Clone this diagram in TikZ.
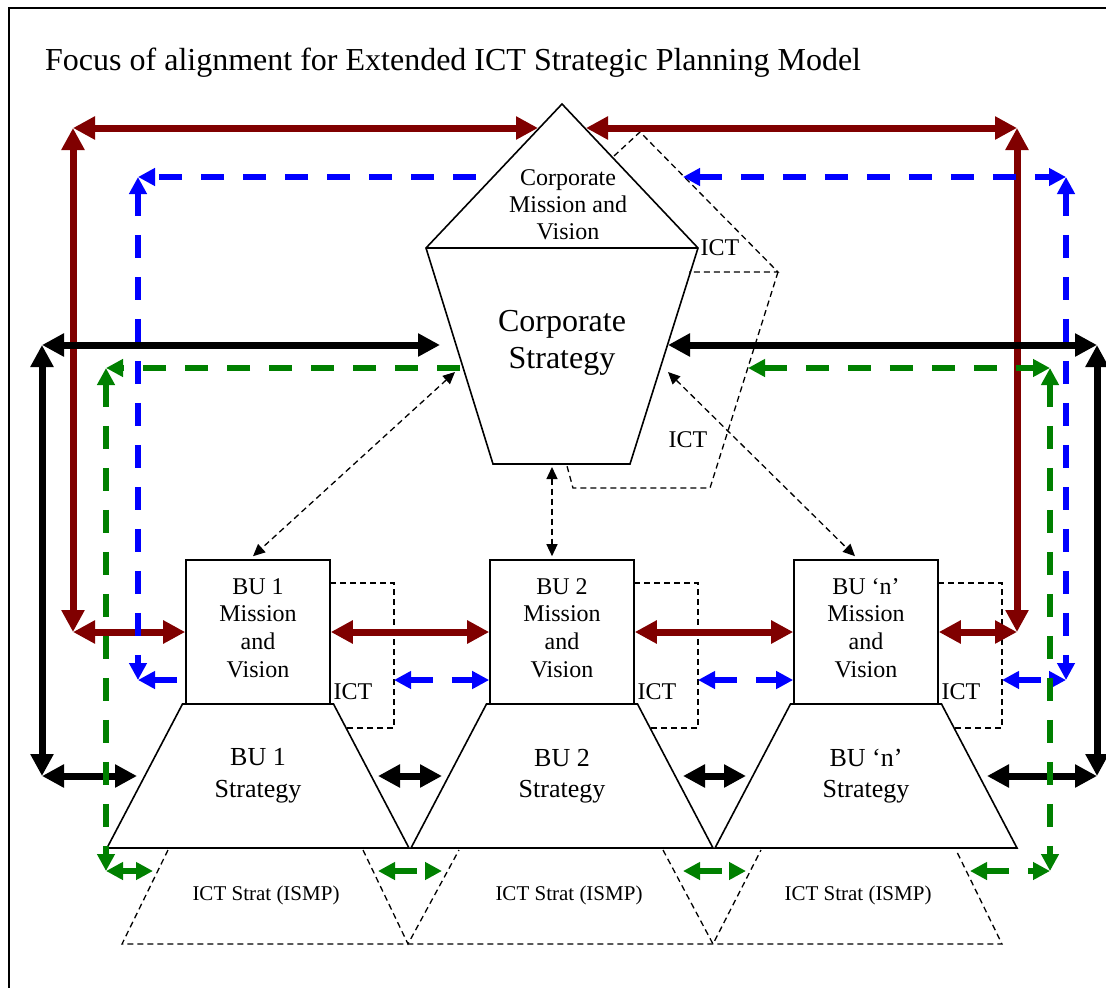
\documentclass[tikz,border=0pt]{standalone}
\usepackage{fontspec}
\setmainfont{Liberation Serif}
\usetikzlibrary{arrows.meta}
\definecolor{linkred}{RGB}{128,0,0}
\definecolor{linkblue}{RGB}{0,0,255}
\definecolor{linkgreen}{RGB}{0,128,0}

\tikzset{
  shape line/.style={line width=1.6pt},
  ict line/.style={line width=1.3pt, dash pattern=on 6pt off 4pt},
  red link/.style={color=linkred, line width=7pt, >={Triangle[length=22pt,width=22pt]}, <->},
  black link/.style={color=black, line width=7pt, >={Triangle[length=22pt,width=22pt]}, <->},
  blue link/.style={color=linkblue, line width=5.5pt, dash pattern=on 23pt off 19pt, >={Triangle[length=17pt,width=17pt]}, <->},
  green link/.style={color=linkgreen, line width=5.5pt, dash pattern=on 23pt off 19pt, >={Triangle[length=17pt,width=17pt]}, <->},
  align link/.style={line width=1.3pt, dash pattern=on 6pt off 4pt, >={Triangle[length=12pt,width=11pt]}, <->},
  bu box/.style={draw, shape line, minimum width=144pt, minimum height=144pt, inner sep=0pt},
  bu text/.style={align=center, inner sep=0pt, font=\fontsize{24}{27.7}\selectfont},
  strat text/.style={align=center, inner sep=0pt, font=\fontsize{26}{31.6}\selectfont},
  ict label/.style={inner sep=0pt, font=\fontsize{24}{28}\selectfont},
  ismp label/.style={inner sep=0pt, font=\fontsize{21}{25}\selectfont}
}

\begin{document}
\begin{tikzpicture}[x=1pt,y=-1pt]
  \useasboundingbox (0,0) rectangle (1106,988);
  % frame and title
  \draw[line width=1.6pt] (9,1000) -- (9,8) -- (1120,8);
  \node[anchor=west, inner sep=0pt, font=\fontsize{32}{38}\selectfont] (title) at (45,63)
    {Focus of alignment for Extended ICT Strategic Planning Model};

  % corporate shape
  \coordinate (apex) at (562,104);
  \coordinate (cml) at (426,248);
  \coordinate (cmr) at (698,248);
  \coordinate (csl) at (493,464);
  \coordinate (csr) at (630,464);
  \draw[shape line] (apex) -- (cmr) -- (csr) -- (csl) -- (cml) -- cycle;
  \draw[shape line] (cml) -- (cmr);
  \node[align=center, inner sep=0pt, font=\fontsize{24}{27}\selectfont] (cmv) at (568,205)
    {Corporate\\Mission and\\Vision};
  \node[align=center, inner sep=0pt, font=\fontsize{32}{37}\selectfont] (cs) at (562,343)
    {Corporate\\Strategy};
  % corporate ICT
  \draw[ict line] (614,156) -- (640,132) -- (778,272) -- (689,272);
  \draw[ict line] (778,272) -- (710,488) -- (573,488) -- (567,466);
  \node[ict label] (cict1) at (720,248) {ICT};
  \node[ict label] (cict2) at (688,440) {ICT};

  % business units
  \foreach \c/\n/\lbl in {258/1/BU 1, 562/2/BU 2, 866/n/BU ‘n’} {
    \node[bu box] (bu\n) at (\c,632) {};
    \node[bu text] (mv\n) at (\c,628) {\lbl\\Mission\\and\\Vision};
    \draw[shape line] ({\c-75.5},704) -- ({\c+75.5},704) -- ({\c+151},848) -- ({\c-151},848) -- cycle;
    \node[strat text] (st\n) at (\c,776) {\lbl\\Strategy};
    \draw[ict line] ({\c+72},583) -- ({\c+136},583) -- ({\c+136},728) -- ({\c+88},728);
    \node[ict label] (ict\n) at ({\c+95},692) {ICT};
  }
  % ISMP layer
  \draw[ict line] (168,850) -- (122,944) -- (1002,944) -- (956,850);
  \draw[ict line] (363,850) -- (408,944) -- (459,850);
  \draw[ict line] (663,850) -- (713,944) -- (761,850);
  \node[ismp label] (is1) at (266,895) {ICT Strat (ISMP)};
  \node[ismp label] (is2) at (569,895) {ICT Strat (ISMP)};
  \node[ismp label] (isn) at (858,895) {ICT Strat (ISMP)};

  % corner points
  \coordinate (rTL) at (73,128);  \coordinate (rTR) at (1017,128);
  \coordinate (rBL) at (73,632);  \coordinate (rBR) at (1017,632);
  \coordinate (rA) at (538,128);  \coordinate (rB) at (586,128);
  \coordinate (bTL) at (138,177); \coordinate (bTR) at (1066,177);
  \coordinate (bBL) at (138,680); \coordinate (bBR) at (1066,680);
  \coordinate (bA) at (476,177);  \coordinate (bB) at (683,177);
  \coordinate (b1) at (177,680);  \coordinate (b2) at (394,680);
  \coordinate (b3) at (698,680);  \coordinate (b4) at (1002,680);
  \coordinate (kTL) at (42,345);  \coordinate (kTR) at (1097,345);
  \coordinate (kBL) at (42,776);  \coordinate (kBR) at (1097,776);
  \coordinate (kA) at (440,345);  \coordinate (kB) at (668,345);
  \coordinate (k1) at (137,776);  \coordinate (k2a) at (378,776);
  \coordinate (k2b) at (442,776); \coordinate (k3a) at (683,776);
  \coordinate (k3b) at (746,776); \coordinate (k4) at (987,776);
  \coordinate (gTL) at (106,368); \coordinate (gTR) at (1050,368);
  \coordinate (gBL) at (106,871); \coordinate (gBR) at (1050,871);
  \coordinate (gA) at (460,368);  \coordinate (gB) at (748,368);
  \coordinate (g1) at (153,871);  \coordinate (g2a) at (378,871);
  \coordinate (g2b) at (442,871); \coordinate (g3a) at (683,871);
  \coordinate (g3b) at (746,871); \coordinate (g4) at (970,871);

  % mission and vision links
  \draw[red link] (rTL) -- (rA);
  \draw[red link] (rB) -- (rTR);
  \draw[red link] (rTL) -- (rBL);
  \draw[red link] (rTR) -- (rBR);
  \draw[red link] (rBL) -- (bu1.west);
  \draw[red link] (bu1.east) -- (bu2.west);
  \draw[red link] (bu2.east) -- (bun.west);
  \draw[red link] (bun.east) -- (rBR);

  % ICT links to mission
  \draw[blue link, ->] (bA) -- (bTL);
  \draw[blue link] (bB) -- (bTR);
  \draw[blue link] (bTL) -- (bBL);
  \draw[blue link] (bTR) -- (bBR);
  \draw[blue link, ->] (b1) -- (bBL);
  \draw[blue link] (b2) -- (bu2.west |- b2);
  \draw[blue link] (b3) -- (bun.west |- b3);
  \draw[blue link] (b4) -- (bBR);

  % strategy links
  \draw[black link] (kTL) -- (kA);
  \draw[black link] (kB) -- (kTR);
  \draw[black link] (kTL) -- (kBL);
  \draw[black link] (kTR) -- (kBR);
  \draw[black link] (kBL) -- (k1);
  \draw[black link] (k2a) -- (k2b);
  \draw[black link] (k3a) -- (k3b);
  \draw[black link] (k4) -- (kBR);

  % ICT strategy links
  \draw[green link, ->] (gA) -- (gTL);
  \draw[green link] (gB) -- (gTR);
  \draw[green link] (gTL) -- (gBL);
  \draw[green link] (gTR) -- (gBR);
  \draw[green link] (gBL) -- (g1);
  \draw[green link] (g2a) -- (g2b);
  \draw[green link] (g3a) -- (g3b);
  \draw[green link] (g4) -- (gBR);

  % corporate to business units
  \coordinate (d1) at (455,372);
  \coordinate (d2) at (552,467);
  \coordinate (d3) at (668,372);
  \draw[align link] (d1) -- ([xshift=-5pt,yshift=3pt]bu1.north);
  \draw[align link] (d2) -- ([xshift=-10pt,yshift=3pt]bu2.north);
  \draw[align link] (d3) -- ([xshift=-11pt,yshift=3pt]bun.north);
\end{tikzpicture}
\end{document}
